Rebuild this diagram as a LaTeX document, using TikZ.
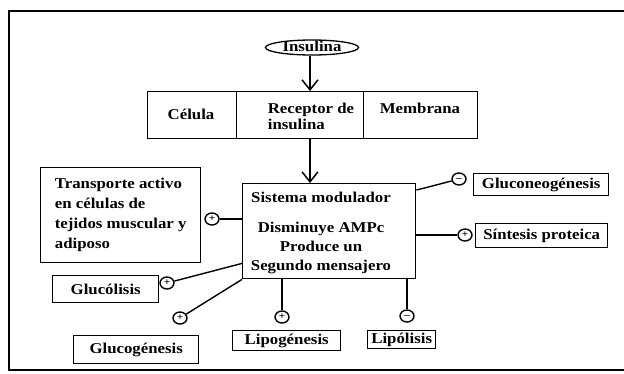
\documentclass[tikz,border=0pt]{standalone}
\usepackage{fontspec}
\setmainfont{Liberation Serif}[FakeStretch=1.12]
\usetikzlibrary{arrows.meta,shapes.geometric,calc}
\begin{document}
\begin{tikzpicture}[x=1pt,y=-1pt,
  every node/.style={font=\bfseries\fontsize{15}{17}\selectfont},
  box/.style={draw, line width=1.4pt, inner sep=0pt, anchor=north west},
  txt/.style={inner sep=0pt},
  sgn/.style={ellipse, draw, line width=1.4pt, minimum width=14pt, minimum height=12pt, inner sep=0pt, text height=5pt, text depth=0pt, font=\bfseries\fontsize{10}{10}\selectfont},
  conn/.style={line width=1.4pt},
  arr/.style={line width=1.3pt, -{Straight Barb[length=10pt,width=16pt,line width=1.5pt]}}
]
\useasboundingbox (0,0) rectangle (624,373);
\draw[line width=1.6pt] (624,11) -- (9,11) -- (9,370) -- (624,370);

\node[draw, ellipse, line width=1.3pt, minimum width=93pt, minimum height=15pt, inner sep=0pt, text height=9pt, text depth=1pt] (insulina) at (312,47.5) {Insulina};

\node[box, minimum width=89pt, minimum height=47pt] (celula) at (147,91) {};
\node[box, minimum width=127pt, minimum height=47pt] (receptor) at (236,91) {};
\node[box, minimum width=114pt, minimum height=47pt] (membrana) at (363,91) {};
\node[txt] (tcel) at (191,114) {Célula};
\node[txt, align=left, font=\bfseries\fontsize{15}{16}\selectfont] (trec) at (311,116) {Receptor de\\insulina};
\node[txt] (tmem) at (420,108) {Membrana};

\coordinate (ax) at (310,0);
\node[box, minimum width=173pt, minimum height=95pt] (mod) at (242,183) {};
\node[txt, align=center, font=\bfseries\fontsize{15}{19}\selectfont] (tmod) at (321,233) {Sistema modulador\\[11pt]Disminuye AMPc\\Produce un\\Segundo mensajero};

\draw[arr] (insulina.south -| ax) -- (receptor.north -| ax);
\draw[arr] (receptor.south -| ax) -- (mod.north -| ax);

\node[box, minimum width=160pt, minimum height=95pt, align=left, font=\bfseries\fontsize{15}{20}\selectfont] (transp) at (40,167) {Transporte activo\\en células de\\tejidos muscular y\\adiposo};
\node[box, minimum width=106pt, minimum height=27pt] (glucol) at (52,275) {Glucólisis};
\node[box, minimum width=125pt, minimum height=28pt] (glucog) at (73,335) {Glucogénesis};
\node[box, minimum width=108pt, minimum height=20pt] (lipog) at (232,330) {Lipogénesis};
\node[box, minimum width=68pt, minimum height=18pt] (lipol) at (367,330) {Lipólisis};
\node[box, minimum width=135pt, minimum height=22pt] (gluconeo) at (473,173) {Gluconeogénesis};
\node[box, minimum width=132pt, minimum height=24pt] (sintesis) at (475,223) {Síntesis proteica};

\node[sgn] (s1) at (212,219) {+};
\node[sgn] (s2) at (459,179) {--};
\node[sgn] (s3) at (465,235) {+};
\node[sgn] (s4) at (167,283) {+};
\node[sgn] (s5) at (180,318) {+};
\node[sgn] (s6) at (282,317) {+};
\node[sgn] (s7) at (407,316) {--};

\draw[conn] (s1) -- (s1 -| mod.west);
\draw[conn] ($(mod.north east)+(0,7)$) -- ++(12,-3) -- (s2);
\draw[conn] (s3 -| mod.east) -- (s3);
\draw[conn] (s4) -- ($(mod.south west)+(0,-16)$);
\draw[conn] (s5) -- (mod.south west);
\draw[conn] (s6 |- mod.south) -- (s6);
\draw[conn] (s7 |- mod.south) -- (s7);
\end{tikzpicture}
\end{document}
